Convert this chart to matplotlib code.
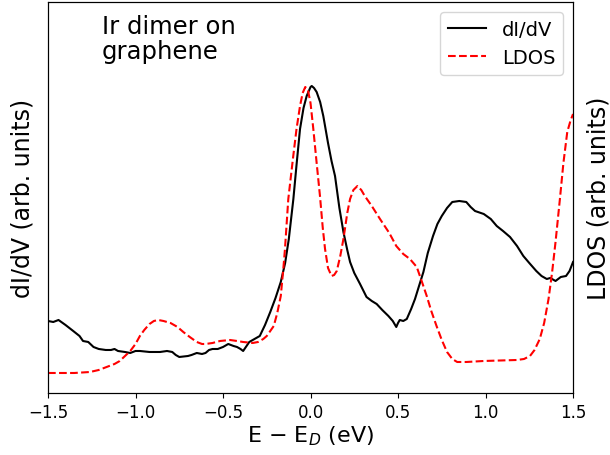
import numpy as np
import matplotlib
matplotlib.use("Agg")
import matplotlib.pyplot as plt

# dI/dV measured spectrum (arb. units)
e_didv = [-1.50, -1.47, -1.44, -1.40, -1.356, -1.32, -1.30, -1.27, -1.24, -1.21,
          -1.17, -1.14, -1.12, -1.10, -1.06, -1.03, -1.00, -0.975, -0.92, -0.86,
          -0.82, -0.79, -0.77, -0.75, -0.70, -0.68, -0.65, -0.62, -0.60, -0.58,
          -0.56, -0.53, -0.50, -0.47, -0.44, -0.42, -0.40, -0.385, -0.35, -0.31,
          -0.29, -0.26, -0.23, -0.20, -0.17, -0.145, -0.124, -0.098, -0.08, -0.06,
          -0.04, -0.022, 0.0, 0.007, 0.02, 0.035, 0.055, 0.073, 0.10, 0.12,
          0.14, 0.165, 0.188, 0.21, 0.226, 0.25, 0.283, 0.32, 0.35, 0.378,
          0.41, 0.445, 0.47, 0.49, 0.50, 0.51, 0.53, 0.55, 0.575, 0.597,
          0.62, 0.645, 0.67, 0.70, 0.725, 0.75, 0.78, 0.81, 0.85, 0.89,
          0.915, 0.94, 0.99, 1.03, 1.064, 1.10, 1.14, 1.18, 1.216, 1.25,
          1.29, 1.32, 1.35, 1.37, 1.40, 1.43, 1.46, 1.48, 1.50]
didv = [72, 71, 73, 68, 62, 57, 52, 51, 46, 44,
        43, 43, 44, 42, 41, 40, 42, 42, 41, 41,
        42, 41, 38, 36, 37, 38, 40, 39, 40, 43,
        44, 44, 46, 49, 47, 46, 44, 42, 51, 55,
        57, 68, 81, 95, 111, 130, 154, 194, 228, 264,
        285, 297, 306, 307, 305, 301, 291, 277, 250, 232,
        217, 185, 161, 143, 131, 120, 109, 96, 92, 89,
        83, 77, 72, 66, 70, 73, 72, 74, 84, 94,
        107, 121, 140, 157, 169, 177, 185, 191, 192, 191,
        186, 182, 179, 174, 167, 162, 156, 147, 137, 130,
        122, 117, 114, 115, 112, 116, 117, 122, 131]

# calculated LDOS (arb. units)
e_ldos = [-1.50, -1.35, -1.26, -1.21, -1.165, -1.12, -1.09, -1.06, -1.03, -1.00,
          -0.975, -0.95, -0.92, -0.895, -0.87, -0.84, -0.80, -0.76, -0.727, -0.69,
          -0.65, -0.62, -0.60, -0.56, -0.517, -0.46, -0.42, -0.385, -0.33, -0.30,
          -0.27, -0.25, -0.21, -0.19, -0.17, -0.155, -0.146, -0.127, -0.10, -0.08,
          -0.06, -0.045, -0.03, -0.015, 0.0, 0.016, 0.035, 0.054, 0.07, 0.083,
          0.10, 0.12, 0.135, 0.15, 0.17, 0.188, 0.21, 0.226, 0.245, 0.268,
          0.29, 0.31, 0.35, 0.397, 0.45, 0.49, 0.53, 0.568, 0.607, 0.635,
          0.664, 0.69, 0.72, 0.75, 0.78, 0.81, 0.838, 0.89, 0.99, 1.18,
          1.22, 1.254, 1.28, 1.31, 1.335, 1.36, 1.38, 1.40, 1.425, 1.445,
          1.467, 1.485, 1.50]
ldos = [20, 20, 21, 23, 26, 29, 32, 37, 42, 49,
        57, 63, 69, 72, 73, 72, 70, 66, 61, 56,
        51, 49, 49, 50, 52, 53, 52, 51, 50, 51,
        54, 57, 67, 80, 97, 125, 144, 194, 235, 264,
        287, 300, 306, 303, 290, 264, 230, 197, 165, 144,
        125, 117, 118, 122, 137, 154, 180, 194, 203, 207,
        203, 197, 187, 174, 160, 147, 139, 134, 126, 112,
        97, 82, 67, 53, 41, 34, 31, 31, 32, 33,
        34, 37, 43, 54, 70, 94, 120, 151, 194, 230,
        261, 272, 279]

fig = plt.figure(figsize=(6.1, 4.56), dpi=100)
ax = fig.add_axes([0.0787, 0.136, 0.8607, 0.8574])
ax2 = ax.twinx()

l1, = ax.plot(e_didv, didv, color="black", lw=1.5, label="dI/dV")
l2, = ax2.plot(e_ldos, ldos, color="red", lw=1.5, ls="--", label="LDOS")

ax.set_xlim(-1.5, 1.5)
ax.set_ylim(0, 391)
ax2.set_ylim(0, 391)
ax.set_yticks([])
ax2.set_yticks([])
ax.set_xticks([-1.5, -1.0, -0.5, 0.0, 0.5, 1.0, 1.5])
ax.tick_params(axis="x", labelsize=12)

ax.set_xlabel(r"E $-$ E$_D$ (eV)", fontsize=16, labelpad=2)
ax.set_ylabel("dI/dV (arb. units)", fontsize=17, labelpad=10)
ax2.set_ylabel("LDOS (arb. units)", fontsize=17, labelpad=10)

ax.text(0.103, 0.97, "Ir dimer on\ngraphene", transform=ax.transAxes,
        fontsize=17.5, va="top", ha="left", linespacing=1.05)

ax.legend(handles=[l1, l2], loc="upper right", fontsize=14)

fig.savefig("out.png", dpi=100)
